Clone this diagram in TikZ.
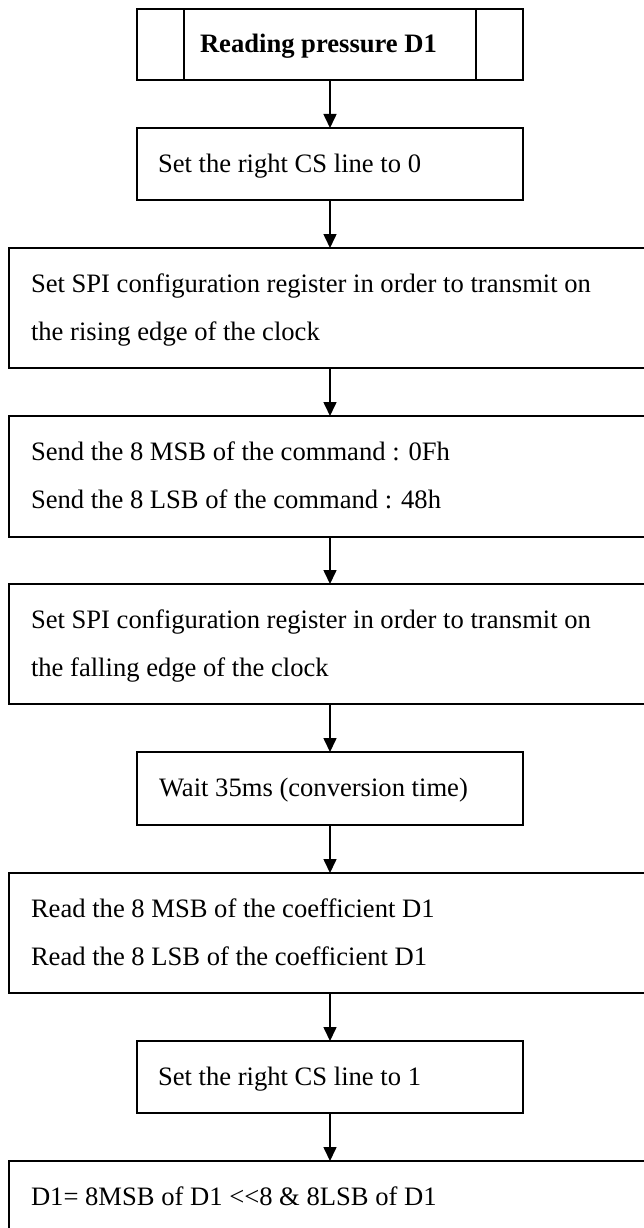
\documentclass[tikz,border=0pt]{standalone}
\usepackage{fontspec}
\setmainfont{Liberation Serif}
\usetikzlibrary{arrows.meta}
\begin{document}
\begin{tikzpicture}[x=1pt,y=-1pt,
  box/.style={draw, line width=1.7pt, anchor=north west, inner sep=0pt, outer sep=0pt},
  lbl/.style={anchor=base west, inner sep=0pt, outer sep=0pt, font=\fontsize{26.6}{32}\selectfont},
  arr/.style={draw, line width=1.6pt, -{Triangle[length=14pt,width=13pt]}}]
\fill[white] (0,0) rectangle (643,1228);
\useasboundingbox (0,0) rectangle (643,1228);
\coordinate (ax) at (330,0);
% boxes
\node[box, minimum width=386pt, minimum height=71pt] (b1) at (137,9) {};
\draw[line width=1.7pt] ([xshift=47pt]b1.north west) -- ([xshift=47pt]b1.south west);
\draw[line width=1.7pt] ([xshift=-47pt]b1.north east) -- ([xshift=-47pt]b1.south east);
\node[box, minimum width=386pt, minimum height=72pt] (b2) at (137,128) {};
\node[box, minimum width=700pt, minimum height=120pt] (b3) at (9,248) {};
\node[box, minimum width=700pt, minimum height=121pt] (b4) at (9,416) {};
\node[box, minimum width=700pt, minimum height=120pt] (b5) at (9,584) {};
\node[box, minimum width=386pt, minimum height=73pt] (b6) at (137,752) {};
\node[box, minimum width=700pt, minimum height=120pt] (b7) at (9,873) {};
\node[box, minimum width=386pt, minimum height=72pt] (b8) at (137,1041) {};
\node[box, minimum width=700pt, minimum height=120pt] (b9) at (9,1161) {};
% labels
\node[lbl, font=\fontsize{26.6}{32}\selectfont\bfseries] (l1) at (200,53) {Reading pressure D1};
\node[lbl] (l2) at (158,172) {Set the right CS line to 0};
\node[lbl] (l3a) at (31,292) {Set SPI configuration register in order to transmit on};
\node[lbl] (l3b) at (31,340) {the rising edge of the clock};
\node[lbl] (l4a) at (31,460) {Send the 8 MSB of the command : 0Fh};
\node[lbl] (l4b) at (31,508) {Send the 8 LSB of the command : 48h};
\node[lbl] (l5a) at (31,628) {Set SPI configuration register in order to transmit on};
\node[lbl] (l5b) at (31,676) {the falling edge of the clock};
\node[lbl] (l6) at (159,796) {Wait 35ms (conversion time)};
\node[lbl] (l7a) at (31,917) {Read the 8 MSB of the coefficient D1};
\node[lbl] (l7b) at (31,965) {Read the 8 LSB of the coefficient D1};
\node[lbl] (l8) at (158,1085) {Set the right CS line to 1};
\node[lbl] (l9) at (31,1205) {D1= 8MSB of D1 <{}<8 \& 8LSB of D1};
% arrows
\draw[arr] (b1.south -| ax) -- (b2.north -| ax);
\draw[arr] (b2.south -| ax) -- (b3.north -| ax);
\draw[arr] (b3.south -| ax) -- (b4.north -| ax);
\draw[arr] (b4.south -| ax) -- (b5.north -| ax);
\draw[arr] (b5.south -| ax) -- (b6.north -| ax);
\draw[arr] (b6.south -| ax) -- (b7.north -| ax);
\draw[arr] (b7.south -| ax) -- (b8.north -| ax);
\draw[arr] (b8.south -| ax) -- (b9.north -| ax);
\end{tikzpicture}
\end{document}
